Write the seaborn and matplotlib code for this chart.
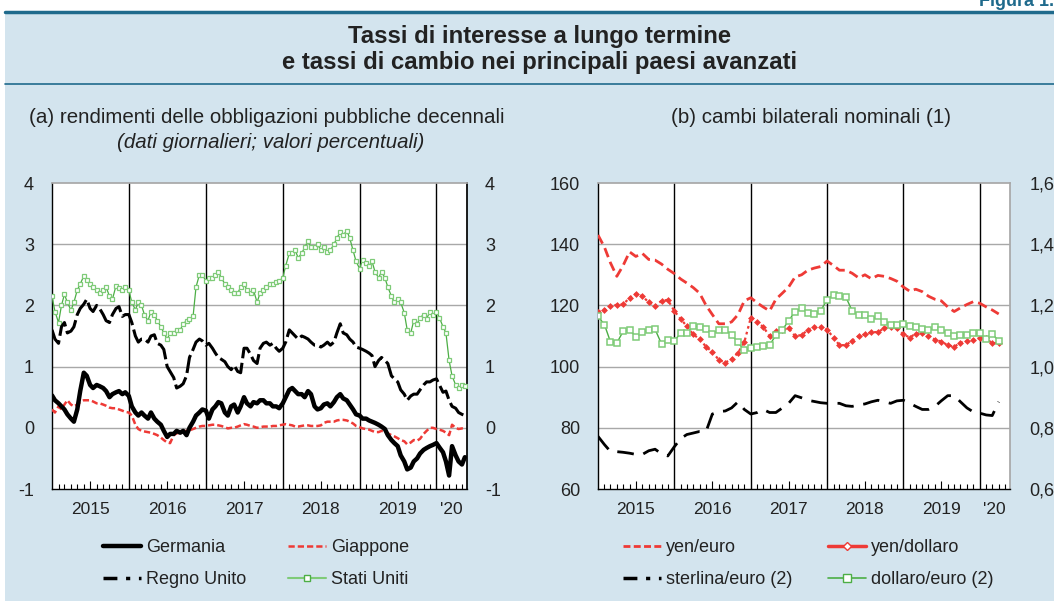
import numpy as np
import pandas as pd
import matplotlib
matplotlib.use("Agg")
import matplotlib.pyplot as plt
import matplotlib.dates as mdates
from matplotlib.lines import Line2D
from matplotlib.patches import Rectangle
import seaborn as sns

# (a) rendimenti decennali, valori semi-mensili (gen 2015 - mag 2020)
germania = [0.53, 0.45, 0.4, 0.35, 0.3, 0.22, 0.15, 0.1, 0.3, 0.6,
            0.9, 0.85, 0.7, 0.65, 0.7, 0.68, 0.65, 0.6, 0.5, 0.55,
            0.58, 0.6, 0.55, 0.58, 0.52, 0.35, 0.25, 0.2, 0.25, 0.2,
            0.15, 0.25, 0.15, 0.1, 0.05, -0.05, -0.15, -0.1, -0.1, -0.05,
            -0.08, -0.05, -0.12, 0.0, 0.1, 0.2, 0.25, 0.3, 0.28, 0.15,
            0.3, 0.35, 0.42, 0.4, 0.25, 0.2, 0.35, 0.38, 0.25, 0.35,
            0.5, 0.4, 0.35, 0.42, 0.4, 0.45, 0.45, 0.4, 0.4, 0.35,
            0.35, 0.32, 0.4, 0.5, 0.62, 0.65, 0.6, 0.55, 0.55, 0.5,
            0.6, 0.55, 0.35, 0.3, 0.32, 0.38, 0.4, 0.35, 0.42, 0.5,
            0.55, 0.48, 0.45, 0.38, 0.3, 0.22, 0.2, 0.15, 0.15, 0.12,
            0.1, 0.08, 0.05, 0.02, -0.02, -0.12, -0.2, -0.25, -0.3, -0.45,
            -0.55, -0.68, -0.65, -0.55, -0.5, -0.42, -0.36, -0.33, -0.3, -0.28,
            -0.25, -0.32, -0.4, -0.55, -0.78, -0.3, -0.45, -0.55, -0.6, -0.48]

regno_unito = [1.6, 1.45, 1.38, 1.65, 1.72, 1.55, 1.58, 1.65, 1.85, 1.95,
               2.02, 2.1, 1.95, 1.9, 2.0, 1.95, 1.85, 1.75, 1.72, 1.85,
               1.95, 1.98, 1.82, 1.85, 1.85, 1.72, 1.5, 1.4, 1.45, 1.45,
               1.4, 1.5, 1.52, 1.38, 1.35, 1.28, 1.0, 0.92, 0.82, 0.65,
               0.68, 0.72, 0.85, 1.15, 1.28, 1.4, 1.45, 1.42, 1.35, 1.38,
               1.3, 1.22, 1.15, 1.12, 1.08, 1.0, 0.95, 1.02, 0.92, 0.9,
               1.3, 1.3, 1.2, 1.1, 1.05, 1.3, 1.38, 1.4, 1.35, 1.38,
               1.3, 1.25, 1.3, 1.4, 1.6, 1.55, 1.5, 1.45, 1.5, 1.48,
               1.45, 1.4, 1.35, 1.35, 1.32, 1.35, 1.4, 1.35, 1.4, 1.55,
               1.7, 1.55, 1.52, 1.45, 1.4, 1.32, 1.3, 1.28, 1.25, 1.22,
               1.18, 1.0, 1.1, 1.15, 1.1, 1.05, 0.85, 0.8, 0.75, 0.62,
               0.55, 0.45, 0.52, 0.55, 0.55, 0.62, 0.7, 0.75, 0.75, 0.78,
               0.8, 0.7, 0.58, 0.6, 0.45, 0.35, 0.32, 0.25, 0.22, 0.2]

giappone = [0.3, 0.25, 0.35, 0.3, 0.38, 0.45, 0.38, 0.35, 0.38, 0.42,
            0.45, 0.45, 0.45, 0.43, 0.4, 0.4, 0.38, 0.36, 0.33, 0.32,
            0.32, 0.3, 0.28, 0.26, 0.25, 0.2, 0.05, -0.02, -0.05, -0.06,
            -0.07, -0.08, -0.1, -0.12, -0.16, -0.2, -0.24, -0.25, -0.12, -0.09,
            -0.08, -0.06, -0.05, -0.04, -0.02, 0.0, 0.02, 0.03, 0.03, 0.04,
            0.05, 0.05, 0.04, 0.03, 0.01, -0.01, 0.0, 0.0, 0.02, 0.04,
            0.06, 0.05, 0.03, 0.02, 0.0, 0.01, 0.02, 0.02, 0.02, 0.03,
            0.03, 0.04, 0.05, 0.06, 0.05, 0.04, 0.02, 0.02, 0.03, 0.04,
            0.04, 0.03, 0.03, 0.03, 0.04, 0.08, 0.1, 0.1, 0.1, 0.12,
            0.13, 0.13, 0.12, 0.1, 0.07, 0.03, 0.01, -0.01, -0.02, -0.03,
            -0.05, -0.07, -0.07, -0.05, -0.06, -0.09, -0.12, -0.14, -0.17, -0.2,
            -0.22, -0.27, -0.24, -0.2, -0.21, -0.18, -0.1, -0.05, 0.0, 0.0,
            -0.02, -0.03, -0.05, -0.08, -0.12, 0.05, 0.0, -0.02, -0.01, -0.02]

stati_uniti = [2.15, 1.9, 1.72, 2.0, 2.18, 2.05, 1.92, 2.05, 2.25, 2.35,
               2.48, 2.42, 2.35, 2.3, 2.25, 2.2, 2.25, 2.3, 2.15, 2.1,
               2.32, 2.28, 2.25, 2.3, 2.25, 2.05, 1.93, 2.05, 2.0, 1.85,
               1.75, 1.9, 1.85, 1.75, 1.65, 1.55, 1.45, 1.55, 1.55, 1.6,
               1.6, 1.7, 1.75, 1.78, 1.82, 2.3, 2.5, 2.5, 2.4, 2.45,
               2.45, 2.5, 2.55, 2.45, 2.35, 2.3, 2.25, 2.2, 2.2, 2.3,
               2.35, 2.25, 2.2, 2.25, 2.05, 2.2, 2.25, 2.3, 2.35, 2.35,
               2.38, 2.4, 2.45, 2.65, 2.85, 2.85, 2.9, 2.78, 2.85, 2.95,
               3.05, 2.95, 2.95, 3.0, 2.9, 2.95, 2.88, 2.9, 3.0, 3.1,
               3.2, 3.15, 3.22, 3.1, 2.9, 2.72, 2.6, 2.75, 2.7, 2.65,
               2.72, 2.55, 2.45, 2.55, 2.45, 2.3, 2.15, 2.05, 2.1, 2.05,
               1.88, 1.6, 1.55, 1.75, 1.7, 1.8, 1.85, 1.78, 1.9, 1.85,
               1.9, 1.8, 1.65, 1.55, 1.1, 0.85, 0.7, 0.65, 0.7, 0.68]

# (b) cambi bilaterali, valori mensili (gen 2015 - apr 2020)
yen_euro = [143, 139, 134, 129.5, 133, 137.5, 136, 137, 135, 134.8,
            133.5, 131.8, 130.4, 128.6, 127.3, 125.8, 124, 120, 117, 114,
            114, 114.6, 117, 121.5, 122.5, 120.8, 119.5, 118.2, 122, 124,
            126, 129.3, 130, 131.5, 132.2, 132.7, 134.5, 133, 131.5, 131.5,
            130.5, 129, 130, 128.7, 129.8, 129.5, 128.8, 127.9, 126, 124.6,
            125.3, 124.5, 123, 122, 121.5, 119.5, 118, 119.2, 120.3, 121.2,
            120.7, 119.5, 118.5, 117.2]

yen_dollaro = [118, 118.5, 119.8, 120.2, 120.3, 122.5, 123.8, 123, 121, 119.8,
               121.5, 121.8, 118.2, 115.5, 113.2, 110.5, 109, 106.5, 104.8, 102.2,
               101.3, 102.5, 104.5, 108, 116, 114.5, 113, 110, 111.5, 112,
               112.5, 110, 110.3, 112, 113, 113, 112, 109.5, 107, 107,
               108.5, 110, 110.5, 111.2, 111.3, 112.5, 113, 112.5, 110.5, 109.5,
               110.8, 111, 110, 108.8, 108.2, 107, 106.5, 107.8, 108.3, 108.8,
               109.3, 109.2, 107.6, 107.8]

# scala di destra
sterlina_euro = [0.772, 0.745, 0.723, 0.722, 0.72, 0.717, 0.713, 0.713, 0.725, 0.73,
                 0.715, 0.708, 0.738, 0.765, 0.778, 0.783, 0.788, 0.788, 0.845, 0.853,
                 0.855, 0.865, 0.885, 0.86, 0.845, 0.85, 0.86, 0.85, 0.85, 0.865,
                 0.88, 0.905, 0.898, 0.89, 0.886, 0.882, 0.88, 0.88, 0.88, 0.872,
                 0.87, 0.875, 0.878, 0.885, 0.89, 0.885, 0.88, 0.888, 0.89, 0.88,
                 0.87, 0.86, 0.86, 0.87, 0.888, 0.905, 0.905, 0.885, 0.865, 0.852,
                 0.848, 0.842, 0.84, 0.885]

dollaro_euro = [1.164, 1.137, 1.082, 1.077, 1.115, 1.12, 1.098, 1.113, 1.12, 1.122,
                1.074, 1.087, 1.085, 1.109, 1.109, 1.133, 1.131, 1.122, 1.107, 1.12,
                1.12, 1.104, 1.079, 1.053, 1.06, 1.063, 1.066, 1.071, 1.102, 1.12,
                1.15, 1.18, 1.191, 1.175, 1.171, 1.183, 1.218, 1.235, 1.231, 1.227,
                1.182, 1.169, 1.167, 1.155, 1.164, 1.147, 1.137, 1.137, 1.14, 1.133,
                1.129, 1.123, 1.118, 1.128, 1.12, 1.109, 1.10, 1.104, 1.104, 1.109,
                1.109, 1.089, 1.106, 1.085]

anni = ["2015", "2016", "2017", "2018", "2019", "'20"]
ytick_a = [-1, 0, 1, 2, 3, 4]
ytick_b = [60, 80, 100, 120, 140, 160]
ytick_b2 = [0.6, 0.8, 1.0, 1.2, 1.4, 1.6]

giorni = pd.date_range("2015-01-01", periods=len(germania), freq="SMS")
mesi = pd.date_range("2015-01-01", periods=len(yen_euro), freq="MS")

sns.set_theme(style="white")
plt.rcParams['font.family'] = ['Liberation Sans', 'DejaVu Sans']

BG = "#d3e4ee"
TEAL = "#1f6a8c"
RED = "#ee3a36"
GREEN = "#4cae45"
GREEN_L = "#7fcb78"
TXT = "#222222"
W, H = 1054, 601

fig = plt.figure(figsize=(10.54, 6.01), dpi=100)
fig.patch.set_facecolor("white")
fig.patches.append(Rectangle((5 / W, 0), 1, 1 - 12 / H, transform=fig.transFigure,
                             facecolor=BG, edgecolor="none", zorder=-10))
fig.add_artist(Line2D([5 / W, 1], [1 - 12 / H] * 2, color=TEAL, lw=2.5))
fig.add_artist(Line2D([5 / W, 1], [1 - 84 / H] * 2, color=TEAL, lw=1.2))
# intestazione tagliata in alto come nell'originale
fig.text(1.0, 1 - 6 / H, "Figura 1.", ha="right", va="baseline", fontsize=13,
         fontweight="bold", color=TEAL)

fig.text(540 / W, 1 - 37 / H, "Tassi di interesse a lungo termine", ha="center",
         va="center", fontsize=17.2, fontweight="bold", color=TXT)
fig.text(540 / W, 1 - 63 / H, "e tassi di cambio nei principali paesi avanzati",
         ha="center", va="center", fontsize=17.2, fontweight="bold", color=TXT)
fig.text(267 / W, 1 - 117 / H, "(a) rendimenti delle obbligazioni pubbliche decennali",
         ha="center", va="center", fontsize=14.8, color=TXT)
fig.text(271 / W, 1 - 143 / H, "(dati giornalieri; valori percentuali)", ha="center",
         va="center", fontsize=14.8, style="italic", color=TXT)
fig.text(811 / W, 1 - 117 / H, "(b) cambi bilaterali nominali (1)", ha="center",
         va="center", fontsize=14.8, color=TXT)

ax_a = fig.add_axes([52 / W, 1 - 489 / H, 415 / W, 306 / H])
ax_b = fig.add_axes([598 / W, 1 - 489 / H, 412 / W, 306 / H])


def prepara_asse(ax, yticks, ylabels):
    ax.set_facecolor("white")
    ax.set_xlim(pd.Timestamp("2015-01-01"), pd.Timestamp("2020-05-25"))
    ax.set_ylim(yticks[0], yticks[-1])
    for y in yticks[1:-1]:
        ax.axhline(y, color="#a8a8a8", lw=1, zorder=0)
    for a in range(2016, 2021):
        ax.axvline(pd.Timestamp(f"{a}-01-01"), color="black", lw=1, zorder=1)
    centri = [pd.Timestamp(f"{a}-07-01") for a in range(2015, 2020)] + [pd.Timestamp("2020-03-13")]
    ax.set_xticks(centri)
    ax.set_xticklabels(anni)
    ax.xaxis.set_minor_locator(mdates.MonthLocator(bymonth=[2, 3, 4, 5, 6, 8, 9, 10, 11, 12]))
    ax.tick_params(axis="x", which="major", direction="in", length=6, width=0.8,
                   color="black", labelsize=12.5, pad=9, labelcolor=TXT, bottom=True)
    ax.tick_params(axis="x", which="minor", direction="in", length=3.5, width=0.8,
                   color="black", bottom=True)
    ax.xaxis.get_major_ticks()[-1].tick1line.set_visible(False)
    ax.set_yticks(yticks)
    ax.set_yticklabels(ylabels)
    ax.tick_params(axis="y", length=0, labelsize=13, labelcolor=TXT)
    for s in ["left", "bottom"]:
        ax.spines[s].set_color("black")
        ax.spines[s].set_linewidth(1)
    ax.spines["top"].set_color("#a8a8a8")
    ax.set_xlabel("")
    ax.set_ylabel("")


# pannello (a)
sns.lineplot(x=giorni, y=stati_uniti, ax=ax_a, color=GREEN, lw=0.9, marker="s",
             markersize=3.5, markerfacecolor="white", markeredgecolor=GREEN_L,
             markeredgewidth=0.9, legend=False, zorder=3)
sns.lineplot(x=giorni, y=regno_unito, ax=ax_a, color="black", lw=2.2,
             linestyle=(0, (6, 1.5)), legend=False, zorder=4)
sns.lineplot(x=giorni, y=giappone, ax=ax_a, color=RED, lw=1.8,
             linestyle=(0, (2.5, 1.2)), legend=False, zorder=4)
sns.lineplot(x=giorni, y=germania, ax=ax_a, color="black", lw=3.2, legend=False, zorder=5)
prepara_asse(ax_a, ytick_a, [str(v) for v in ytick_a])
ax_a.tick_params(axis="y", labelright=True, pad=13)
ax_a.spines["right"].set_color("black")

# pannello (b)
sns.lineplot(x=mesi, y=yen_euro, ax=ax_b, color=RED, lw=2, linestyle=(0, (3.5, 1.8)),
             legend=False, zorder=3)
sns.lineplot(x=mesi, y=yen_dollaro, ax=ax_b, color=RED, lw=1.6, linestyle=(0, (1.2, 1.5)),
             marker="D", markersize=3.5, markeredgewidth=0, legend=False, zorder=3)
prepara_asse(ax_b, ytick_b, [str(v) for v in ytick_b])
ax_b.tick_params(axis="y", pad=13)
ax_b.spines["right"].set_color("#a8a8a8")

ax_b2 = ax_b.twinx()
sns.lineplot(x=mesi, y=dollaro_euro, ax=ax_b2, color=GREEN, lw=1, marker="s",
             markersize=5, markerfacecolor="white", markeredgecolor=GREEN_L,
             markeredgewidth=1.1, legend=False, zorder=3)
sns.lineplot(x=mesi, y=sterlina_euro, ax=ax_b2, color="black", lw=2,
             linestyle=(0, (6, 3.5)), legend=False, zorder=4)
ax_b2.set_ylim(0.6, 1.6)
ax_b2.set_yticks(ytick_b2)
ax_b2.set_yticklabels([f"{v:.1f}".replace(".", ",") for v in ytick_b2])
ax_b2.tick_params(axis="y", length=0, labelsize=13, labelcolor=TXT, pad=14)
ax_b2.set_ylabel("")
ax_b2.grid(False)
for s in ax_b2.spines.values():
    s.set_visible(False)

# legende
h_ger = Line2D([], [], color="black", lw=3.2)
h_uk = Line2D([], [], color="black", lw=2.5, linestyle=(0, (4, 2.5, 1.2, 2.5)))
h_jp = Line2D([], [], color=RED, lw=1.8, linestyle=(0, (2.5, 1.2)))
h_us = Line2D([], [], color=GREEN_L, lw=1.5, marker="s", markersize=4,
              markerfacecolor="white", markeredgecolor=GREEN)
h_ye = Line2D([], [], color=RED, lw=2, linestyle=(0, (2.5, 1.2)))
h_yd = Line2D([], [], color=RED, lw=2.5, marker="D", markersize=4,
              markerfacecolor="white", markeredgecolor=RED)
h_se = Line2D([], [], color="black", lw=2.5, linestyle=(0, (4, 2.5, 1.2, 2.5)))
h_de = Line2D([], [], color=GREEN, lw=1.2, marker="s", markersize=6,
              markerfacecolor="white", markeredgecolor=GREEN)


def legenda(handles, labels, x):
    fig.legend(handles, labels, loc="upper left", bbox_to_anchor=(x / W, 1 - 539 / H),
               frameon=False, fontsize=13, handlelength=2.1, handletextpad=0.3,
               labelspacing=0.85, borderpad=0, borderaxespad=0, labelcolor=TXT)


legenda([h_ger, h_uk], ["Germania", "Regno Unito"], 103)
legenda([h_jp, h_us], ["Giappone", "Stati Uniti"], 288)
legenda([h_ye, h_se], ["yen/euro", "sterlina/euro (2)"], 623)
legenda([h_yd, h_de], ["yen/dollaro", "dollaro/euro (2)"], 828)

fig.savefig("out.png", dpi=100, facecolor=fig.get_facecolor())
